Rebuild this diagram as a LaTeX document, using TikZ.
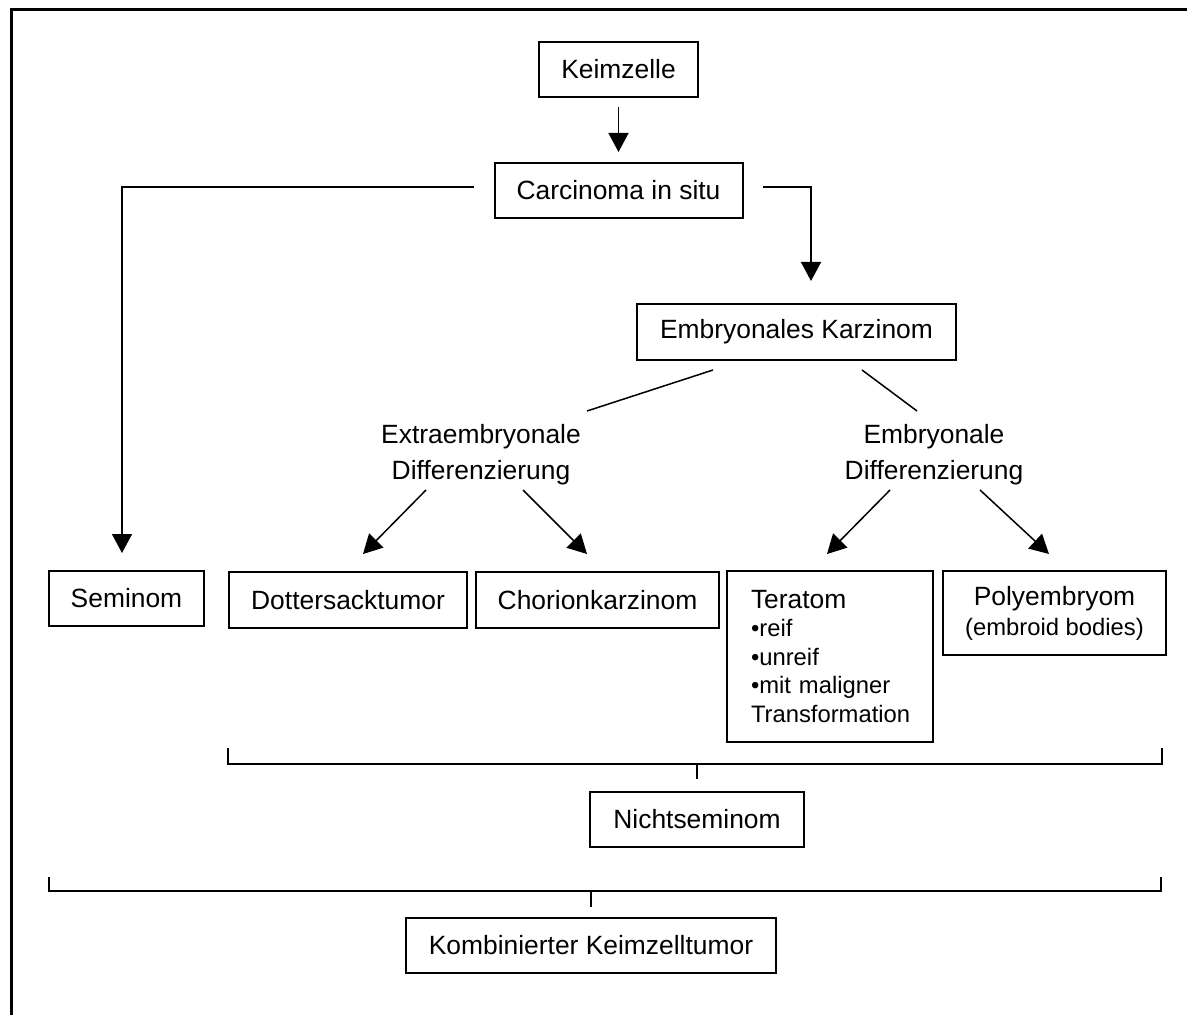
\documentclass[tikz,border=0pt]{standalone}
\usepackage{fontspec}
\setmainfont{Liberation Sans}
\usetikzlibrary{arrows.meta}
\begin{document}
\begin{tikzpicture}[x=0.5pt,y=-0.5pt,
 box/.style={draw, line width=1pt, inner sep=0pt, font=\fontsize{13.2}{15}\selectfont, align=center},
 conn/.style={line width=0.75pt},
 brk/.style={line width=1pt},
 arr/.style={conn, -{Triangle[width=10pt,length=9.5pt]}},
 lbl/.style={font=\fontsize{13.2}{18}\selectfont, align=center, inner sep=0pt}]
\useasboundingbox (0,0) rectangle (1187,1015);
\draw[line width=1.5pt] (11,1020) -- (11,10) -- (1192,10);

\node[box, minimum width=79.5pt, minimum height=27.5pt] (k) at (618.5,69.5) {Keimzelle};
\node[box, minimum width=124pt, minimum height=27.5pt] (cis) at (618.5,190.5) {Carcinoma in situ};
\node[box, minimum width=159.5pt, minimum height=28pt] (ek) at (796.5,332) {Embryonales Karzinom};
\node[lbl] (ext) at (481,455) {Extraembryonale\\Differenzierung};
\node[lbl] (emb) at (934,455) {Embryonale\\Differenzierung};
\node[box, minimum width=77.5pt, minimum height=27.5pt] (sem) at (126.5,598.5) {Seminom};
\node[box, minimum width=119pt, minimum height=28pt] (dot) at (348,600) {Dottersacktumor};
\node[box, minimum width=121.5pt, minimum height=28pt] (cho) at (597.5,600) {Chorionkarzinom};
\node[box, text width=79pt, inner xsep=12pt, align=left, minimum height=85.5pt, font=\fontsize{11.9}{14.25}\selectfont] (ter) at (830,656.5) {{\fontsize{13.2}{14.25}\selectfont Teratom}\\•reif\\•unreif\\•mit maligner\\Transformation};
\node[box, minimum width=111.5pt, minimum height=42pt] (pol) at (1054.5,613) {Polyembryom\\{\fontsize{11.9}{15}\selectfont (embroid bodies)}};
\node[box, minimum width=107pt, minimum height=27.5pt] (ns) at (697,819.5) {Nichtseminom};
\node[box, minimum width=185pt, minimum height=27.5pt] (kk) at (591,945.5) {Kombinierter Keimzelltumor};

\draw[arr] ([yshift=-4.5pt]k.south) -- ([yshift=5pt]cis.north);
\draw[arr] ([xshift=-10pt,yshift=1.75pt]cis.west) -| ([xshift=-2.25pt,yshift=8.5pt]sem.north);
\draw[arr] ([xshift=9.5pt,yshift=1.75pt]cis.east) -| ([xshift=7.25pt,yshift=11pt]ek.north);

\draw[conn] ([xshift=-41.75pt,yshift=-4.5pt]ek.south) -- ([xshift=53pt,yshift=22pt]ext.center);
\draw[conn] ([xshift=32.75pt,yshift=-4.5pt]ek.south) -- ([xshift=-8.5pt,yshift=22pt]emb.center);

\draw[arr] ([xshift=-27.5pt,yshift=-17.5pt]ext.center) -- ([xshift=7.5pt,yshift=8.5pt]dot.north);
\draw[arr] ([xshift=21pt,yshift=-17.5pt]ext.center) -- ([xshift=-5.25pt,yshift=8.5pt]cho.north);
\draw[arr] ([xshift=-22pt,yshift=-17.5pt]emb.center) -- ([xshift=-1.5pt,yshift=8pt]ter.north);
\draw[arr] ([xshift=23pt,yshift=-17.5pt]emb.center) -- ([xshift=-2.75pt,yshift=8pt]pol.north);

\coordinate (b1l) at (228,764);
\coordinate (b1r) at (1162,764);
\draw[brk] ([yshift=8pt]b1l) -- (b1l) -- (b1r) -- ([yshift=8pt]b1r);
\draw[brk] (ns.north |- b1l) -- ([yshift=6pt]ns.north);

\coordinate (b2l) at (49,891);
\coordinate (b2r) at (1161,891);
\draw[brk] ([yshift=7pt]b2l) -- (b2l) -- (b2r) -- ([yshift=7pt]b2r);
\draw[brk] (kk.north |- b2l) -- ([yshift=5pt]kk.north);
\end{tikzpicture}
\end{document}
